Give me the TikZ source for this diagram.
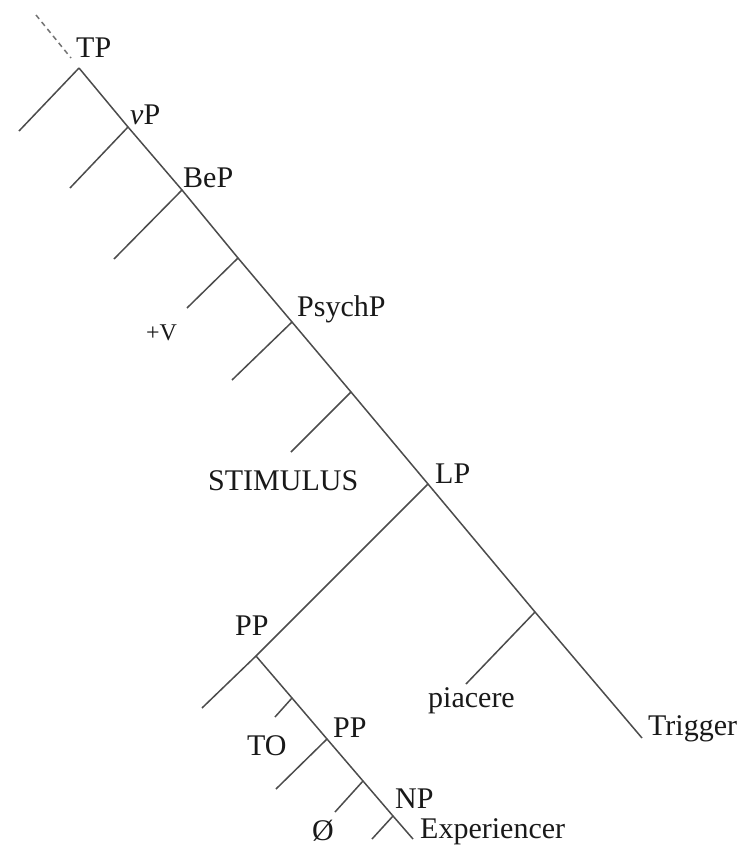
\documentclass[tikz,border=0pt]{standalone}
\usepackage{fontspec}
\setmainfont{Liberation Serif}
\begin{document}
\begin{tikzpicture}[x=1pt,y=-1pt,
  branch/.style={draw=black!70, line width=1.5pt},
  dashbranch/.style={draw=black!55, line width=1.5pt, dash pattern=on 5pt off 4pt},
  lbl/.style={anchor=base west, inner sep=0pt, text=black!90, font=\fontsize{30}{35}\selectfont},
  smalllbl/.style={anchor=base west, inner sep=0pt, text=black!90, font=\fontsize{24}{28}\selectfont}]
\useasboundingbox (0,0) rectangle (744,846);
\fill[white] (0,0) rectangle (744,846);
% spine coordinates
\coordinate (top) at (36,15);
\coordinate (dashend) at (71,58);
\coordinate (tp) at (79,68);
\coordinate (vp) at (128,127);
\coordinate (bep) at (182,190);
\coordinate (j1) at (238,258);
\coordinate (psychp) at (292,322);
\coordinate (j2) at (351,392);
\coordinate (lp) at (428,484);
\coordinate (j3) at (535,612);
\coordinate (trig) at (642,738);
% left leaves
\coordinate (l1) at (19,131);
\coordinate (l2) at (70,188);
\coordinate (l3) at (114,259);
\coordinate (l4) at (187,308);
\coordinate (l5) at (232,380);
\coordinate (l6) at (291,452);
\coordinate (l7) at (466,684);
% PP subtree
\coordinate (pp) at (256,656);
\coordinate (m1) at (202,708);
\coordinate (j4) at (292,698);
\coordinate (pp2) at (327,739);
\coordinate (j5) at (363,781);
\coordinate (np) at (393,816);
\coordinate (exp) at (413,839);
\coordinate (m2) at (275,717);
\coordinate (m3) at (276,789);
\coordinate (m4) at (335,812);
\coordinate (m5) at (372,839);

\draw[dashbranch] (top) -- (dashend);
\draw[branch] (tp) -- (vp) -- (bep) -- (j1) -- (psychp) -- (j2) -- (lp) -- (j3) -- (trig);
\draw[branch] (tp) -- (l1);
\draw[branch] (vp) -- (l2);
\draw[branch] (bep) -- (l3);
\draw[branch] (j1) -- (l4);
\draw[branch] (psychp) -- (l5);
\draw[branch] (j2) -- (l6);
\draw[branch] (j3) -- (l7);
\draw[branch] (lp) -- (pp);
\draw[branch] (pp) -- (m1);
\draw[branch] (pp) -- (j4) -- (pp2) -- (j5) -- (np) -- (exp);
\draw[branch] (j4) -- (m2);
\draw[branch] (pp2) -- (m3);
\draw[branch] (j5) -- (m4);
\draw[branch] (np) -- (m5);

% labels
\node[lbl] (tTP) at (76,57) {TP};
\node[lbl] (tvP) at (130,124) {\textit{v}P};
\node[lbl] (tBeP) at (183,187) {BeP};
\node[smalllbl] (tV) at (146,340) {+V};
\node[lbl] (tPsychP) at (297,316) {PsychP};
\node[lbl] (tSTIM) at (208,490) {STIMULUS};
\node[lbl] (tLP) at (435,483) {LP};
\node[lbl] (tPP) at (235,635) {PP};
\node[lbl] (tTO) at (247,755) {TO};
\node[lbl] (tPP2) at (333,737) {PP};
\node[lbl] (tO) at (312,840) {Ø};
\node[lbl] (tNP) at (395,808) {NP};
\node[lbl] (tExp) at (420,838) {Experiencer};
\node[lbl] (tpia) at (428,707) {piacere};
\node[lbl] (tTrig) at (648,735) {Trigger};
\end{tikzpicture}
\end{document}
